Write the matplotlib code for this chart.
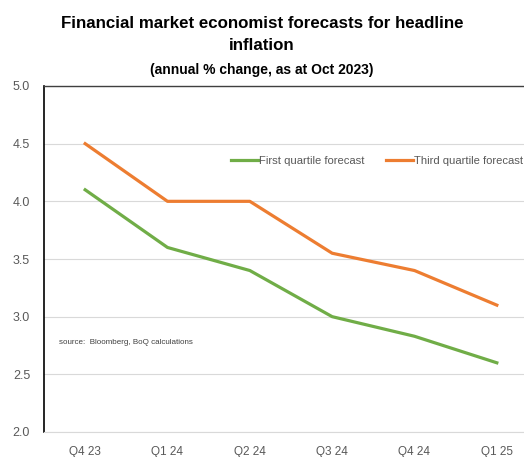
import numpy as np
import matplotlib.pyplot as plt

plt.rcParams['font.family'] = ['Liberation Sans', 'DejaVu Sans']

quarters = ['Q4 23', 'Q1 24', 'Q2 24', 'Q3 24', 'Q4 24', 'Q1 25']
first_q = [4.1, 3.6, 3.4, 3.0, 2.83, 2.6]
third_q = [4.5, 4.0, 4.0, 3.55, 3.4, 3.1]

fig = plt.figure(figsize=(5.24, 4.57), dpi=100)
ax = fig.add_axes([44/524, 25/457, 494/524, 346/457])

x = np.arange(len(quarters))
ax.plot(x, first_q, color='#70AD47', lw=2.3, label='First quartile forecast')
ax.plot(x, third_q, color='#ED7D31', lw=2.3, label='Third quartile forecast')

ax.set_xlim(-0.5, 5.5)
ax.set_ylim(2.0, 5.0)
yt = np.arange(2.0, 5.01, 0.5)
ax.set_yticks(yt)
ax.set_yticklabels([f'{v:.1f}' for v in yt])
ax.set_xticks(x)
ax.set_xticklabels(quarters)
ax.grid(axis='y', color='#d9d9d9', lw=0.8)
ax.set_axisbelow(True)
ax.tick_params(length=0, labelsize=8.5, colors='#595959')
ax.tick_params(axis='x', pad=10)
ax.tick_params(axis='y', pad=10, labelsize=9)

ax.spines['left'].set_color('black')
ax.spines['left'].set_linewidth(1.2)
ax.spines['top'].set_color('#404040')
ax.spines['top'].set_linewidth(1.0)
ax.spines['right'].set_visible(False)
ax.spines['bottom'].set_color('#d9d9d9')

ax.legend(loc='center left', bbox_to_anchor=(0.37, 0.783), ncol=2, frameon=False,
          fontsize=8.1, handlelength=2.4, handletextpad=0.1, columnspacing=1.9,
          labelcolor='#595959', borderaxespad=0)

ax.text(0.03, 0.26, 'source:  Bloomberg, BoQ calculations', transform=ax.transAxes,
        fontsize=5.8, color='#404040', va='center')

fig.text(0.5, 0.949, 'Financial market economist forecasts for headline',
         ha='center', va='center', fontsize=12.2, fontweight='bold')
fig.text(0.5, 0.901, 'inflation', ha='center', va='center', fontsize=12.2, fontweight='bold')
fig.text(0.5, 0.847, '(annual % change, as at Oct 2023)', ha='center', va='center',
         fontsize=10, fontweight='bold')

fig.savefig('out.png', dpi=100)
